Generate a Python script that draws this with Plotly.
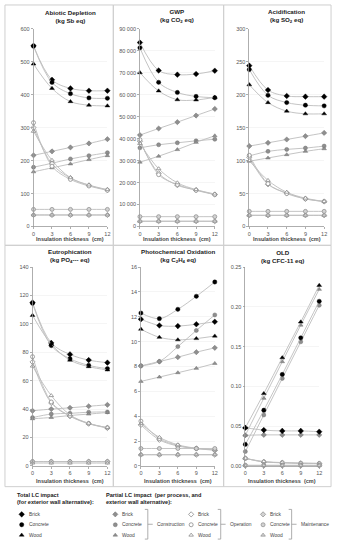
import plotly.graph_objects as go

W, H = 337, 550
def px(x): return x / W
def py(y): return 1 - y / H

thickness = [0, 3, 6, 9, 12]
x_tick_vals = [0, 3, 6, 9, 12]
x_title = "Insulation thickness  (cm)"

# ---------------- Abiotic Depletion (kg Sb eq)
ad_tot_brick = [548, 445, 419, 412, 412]
ad_tot_concrete = [547, 437, 403, 390, 389]
ad_tot_wood = [493, 419, 379, 368, 366]
ad_con_brick = [216, 228, 240, 252, 265]
ad_con_concrete = [180, 192, 205, 215, 224]
ad_con_wood = [166, 178, 190, 203, 215]
ad_op_brick = [300, 190, 147, 125, 111]
ad_op_concrete = [315, 183, 143, 123, 110]
ad_op_wood = [289, 201, 148, 126, 112]
ad_mt_brick = [35, 35, 35, 35, 35]
ad_mt_concrete = [52, 52, 52, 52, 52]
ad_mt_wood = [35, 35, 35, 35, 35]

# ---------------- GWP (kg CO2 eq)
gwp_tot_brick = [83700, 71000, 69100, 69400, 70900]
gwp_tot_concrete = [81300, 65600, 61000, 59200, 58600]
gwp_tot_wood = [70000, 61700, 57700, 57600, 58800]
gwp_con_brick = [41600, 44600, 47500, 50500, 53500]
gwp_con_concrete = [35800, 37200, 38100, 39000, 39700]
gwp_con_wood = [29300, 32000, 35000, 38300, 41300]
gwp_op_brick = [38800, 24200, 18800, 16600, 14600]
gwp_op_concrete = [39500, 23600, 19100, 16500, 14500]
gwp_op_wood = [37800, 26300, 19900, 16800, 14800]
gwp_mt_brick = [2400, 2400, 2400, 2400, 2400]
gwp_mt_concrete = [4500, 4500, 4500, 4500, 4500]
gwp_mt_wood = [2400, 2400, 2400, 2400, 2400]

# ---------------- Acidification (kg SO2 eq)
ac_tot_brick = [244, 207, 198, 197, 197]
ac_tot_concrete = [238, 199, 188, 184, 183]
ac_tot_wood = [215, 188, 175, 171, 171]
ac_con_brick = [122, 127, 132, 137, 142]
ac_con_concrete = [107, 114, 117, 119, 122]
ac_con_wood = [99, 104, 109, 114, 118]
ac_op_brick = [105, 64, 51, 42, 38]
ac_op_concrete = [108, 65, 50, 42, 38]
ac_op_wood = [100, 70, 52, 43, 38]
ac_mt_brick = [17, 17, 17, 17, 17]
ac_mt_concrete = [23, 23, 23, 23, 23]
ac_mt_wood = [17, 17, 17, 17, 17]

# ---------------- Eutrophication (kg PO4--- eq)
eu_tot_brick = [115, 86.6, 78.5, 74.5, 72.7]
eu_tot_concrete = [114.5, 84.7, 75.5, 70.8, 68.5]
eu_tot_wood = [106, 85.7, 74.5, 69.9, 67.6]
eu_con_brick = [38.8, 40, 40.9, 42, 43]
eu_con_concrete = [34, 36.5, 37, 37.8, 38]
eu_con_wood = [33.2, 34.1, 35.5, 36.5, 37.6]
eu_op_brick = [73.2, 44.3, 35, 29.7, 26.7]
eu_op_concrete = [76.9, 45, 35.2, 29.9, 26.9]
eu_op_wood = [70.3, 49.5, 36, 30, 27]
eu_mt_brick = [3, 3, 3, 3, 3]
eu_mt_concrete = [3, 3, 3, 3, 3]
eu_mt_wood = [2, 2, 2, 2, 2]

# ---------------- Photochemical Oxidation (kg C2H4 eq)
po_tot_brick = [11.8, 11.3, 11.25, 11.4, 11.6]
po_tot_concrete = [12.3, 11.85, 12.6, 13.65, 14.8]
po_tot_wood = [11.0, 10.35, 10.15, 10.25, 10.45]
po_con_brick = [8.05, 8.4, 8.75, 9.15, 9.5]
po_con_concrete = [8.05, 8.4, 9.6, 10.9, 12.15]
po_con_wood = [6.8, 7.15, 7.5, 7.85, 8.25]
po_op_brick = [3.3, 2.1, 1.6, 1.4, 1.25]
po_op_concrete = [3.6, 2.2, 1.65, 1.4, 1.3]
po_op_wood = [3.4, 2.3, 1.7, 1.42, 1.3]
po_mt_brick = [0.9, 0.9, 0.9, 0.9, 0.9]
po_mt_concrete = [1.4, 1.4, 1.4, 1.4, 1.4]
po_mt_wood = [0.9, 0.9, 0.9, 0.9, 0.9]

# ---------------- OLD (kg CFC-11 eq)
od_tot_brick = [0.048, 0.045, 0.044, 0.044, 0.043]
od_tot_concrete = [0.027, 0.070, 0.115, 0.161, 0.207]
od_tot_wood = [0.048, 0.091, 0.136, 0.181, 0.227]
od_con_brick = [0.0385, 0.039, 0.039, 0.039, 0.039]
od_con_concrete = [0.018, 0.064, 0.110, 0.156, 0.202]
od_con_wood = [0.0385, 0.085, 0.131, 0.177, 0.222]
od_op_brick = [0.0095, 0.005, 0.004, 0.003, 0.003]
od_op_concrete = [0.0095, 0.005, 0.004, 0.0035, 0.003]
od_op_wood = [0.0095, 0.0055, 0.0042, 0.0035, 0.0032]
od_mt_brick = [0.0005, 0.0005, 0.0005, 0.0005, 0.0005]
od_mt_concrete = [0.0008, 0.0008, 0.0008, 0.0008, 0.0008]
od_mt_wood = [0.0004, 0.0004, 0.0004, 0.0004, 0.0004]

alternatives = ["Brick", "Concrete", "Wood"]
processes = ["Construction", "Operation", "Maintenance"]

FONT = "Liberation Sans, Arial, sans-serif"
LINE_C = "#bdbdbd"

SYM = {"Brick": "diamond", "Concrete": "circle", "Wood": "triangle-up"}
def marker_style(group, alt):
    s = SYM[alt]
    if group == "total":
        return dict(symbol=s, size=4.3, color="#000000", line=dict(color="#000000", width=0.4))
    if group == "Construction":
        return dict(symbol=s, size=4, color="#8f8f8f", line=dict(color="#707070", width=0.5))
    if group == "Operation":
        return dict(symbol=s, size=4, color="#ffffff", line=dict(color="#8a8a8a", width=0.8))
    return dict(symbol=s, size=4, color="#d2d2d2", line=dict(color="#8a8a8a", width=0.7))

panels = [
    dict(t1="Abiotic Depletion", t2="(kg Sb eq)", yr=[0, 600], dt=100, fmt="",
         tot=[ad_tot_brick, ad_tot_concrete, ad_tot_wood],
         part={"Construction": [ad_con_brick, ad_con_concrete, ad_con_wood],
               "Operation": [ad_op_brick, ad_op_concrete, ad_op_wood],
               "Maintenance": [ad_mt_brick, ad_mt_concrete, ad_mt_wood]},
         xd=(32, 107), yd=(26, 226), box=(3, 113, 2, 245), ty=13.5, xty=239),
    dict(t1="GWP", t2="(kg CO<sub>2</sub> eq)", yr=[0, 90000], dt=10000, fmt="",
         tot=[gwp_tot_brick, gwp_tot_concrete, gwp_tot_wood],
         part={"Construction": [gwp_con_brick, gwp_con_concrete, gwp_con_wood],
               "Operation": [gwp_op_brick, gwp_op_concrete, gwp_op_wood],
               "Maintenance": [gwp_mt_brick, gwp_mt_concrete, gwp_mt_wood]},
         xd=(140, 216), yd=(26, 226), box=(113, 225, 2, 245), ty=13.5, xty=239),
    dict(t1="Acidification", t2="(kg SO<sub>2</sub> eq)", yr=[0, 300], dt=50, fmt="",
         tot=[ac_tot_brick, ac_tot_concrete, ac_tot_wood],
         part={"Construction": [ac_con_brick, ac_con_concrete, ac_con_wood],
               "Operation": [ac_op_brick, ac_op_concrete, ac_op_wood],
               "Maintenance": [ac_mt_brick, ac_mt_concrete, ac_mt_wood]},
         xd=(251, 327), yd=(26, 226), box=(225, 334, 2, 245), ty=13.5, xty=239),
    dict(t1="Eutrophication", t2="(kg PO<sub>4</sub>--- eq)", yr=[0, 140], dt=20, fmt="",
         tot=[eu_tot_brick, eu_tot_concrete, eu_tot_wood],
         part={"Construction": [eu_con_brick, eu_con_concrete, eu_con_wood],
               "Operation": [eu_op_brick, eu_op_concrete, eu_op_wood],
               "Maintenance": [eu_mt_brick, eu_mt_concrete, eu_mt_wood]},
         xd=(31, 107), yd=(267, 468), box=(3, 113, 245, 489), ty=256, xty=483),
    dict(t1="Photochemical Oxidation", t2="(kg C<sub>2</sub>H<sub>4</sub> eq)", yr=[0, 16], dt=2, fmt="",
         tot=[po_tot_brick, po_tot_concrete, po_tot_wood],
         part={"Construction": [po_con_brick, po_con_concrete, po_con_wood],
               "Operation": [po_op_brick, po_op_concrete, po_op_wood],
               "Maintenance": [po_mt_brick, po_mt_concrete, po_mt_wood]},
         xd=(141, 216), yd=(267, 468), box=(113, 225, 245, 489), ty=256, xty=483),
    dict(t1="OLD", t2="(kg CFC-11 eq)", yr=[0, 0.25], dt=0.05, fmt=".2f",
         tot=[od_tot_brick, od_tot_concrete, od_tot_wood],
         part={"Construction": [od_con_brick, od_con_concrete, od_con_wood],
               "Operation": [od_op_brick, od_op_concrete, od_op_wood],
               "Maintenance": [od_mt_brick, od_mt_concrete, od_mt_wood]},
         xd=(247, 322), yd=(267, 468), box=(225, 334, 245, 489), ty=256, xty=483),
]

fig = go.Figure()
shapes = []
annotations = []
layout_axes = {}

for i, p in enumerate(panels, start=1):
    xa = "x" if i == 1 else f"x{i}"
    ya = "y" if i == 1 else f"y{i}"
    xkey = "xaxis" if i == 1 else f"xaxis{i}"
    ykey = "yaxis" if i == 1 else f"yaxis{i}"
    for proc in processes:
        for alt, vals in zip(alternatives, p["part"][proc]):
            fig.add_trace(go.Scatter(x=thickness, y=vals, xaxis=xa, yaxis=ya, mode="lines+markers",
                                     line=dict(color=LINE_C, width=0.9, shape="spline", smoothing=1.0),
                                     marker=marker_style(proc, alt), cliponaxis=False,
                                     name=f"{proc} {alt}", showlegend=False))
    for alt, vals in zip(alternatives, p["tot"]):
        fig.add_trace(go.Scatter(x=thickness, y=vals, xaxis=xa, yaxis=ya, mode="lines+markers",
                                 line=dict(color=LINE_C, width=0.9, shape="spline", smoothing=1.0),
                                 marker=marker_style("total", alt), cliponaxis=False,
                                 name=f"Total {alt}", showlegend=False))
    x0, x1 = p["xd"]
    y0, y1 = p["yd"]
    xax = dict(domain=[px(x0), px(x1)], anchor=ya, range=[0, 12],
               tickvals=x_tick_vals, showgrid=False, zeroline=False,
               showline=True, linecolor="#9a9a9a", linewidth=0.8,
               ticks="outside", ticklen=2, tickcolor="#9a9a9a", tickwidth=0.8,
               tickfont=dict(size=5.5, color="#555", family=FONT), fixedrange=True)
    yax = dict(domain=[py(y1), py(y0)], anchor=xa, range=p["yr"], dtick=p["dt"],
               tick0=0, exponentformat="none",
               separatethousands=True, showgrid=True, gridcolor="#eeeeee",
               gridwidth=0.6, zeroline=False, showline=True, linecolor="#9a9a9a",
               linewidth=0.8, ticks="outside", ticklen=2, tickcolor="#9a9a9a",
               tickwidth=0.8, tickfont=dict(size=5.5, color="#555", family=FONT),
               fixedrange=True)
    if p["fmt"]:
        yax["tickformat"] = p["fmt"]
    layout_axes[xkey] = xax
    layout_axes[ykey] = yax
    bx0, bx1, by0, by1 = p["box"]
    shapes.append(dict(type="rect", xref="paper", yref="paper", x0=px(bx0), x1=px(bx1),
                       y0=py(by1), y1=py(by0), line=dict(color="#cfcfcf", width=1)))
    annotations.append(dict(xref="paper", yref="paper", x=px((x0 + x1) / 2), y=py(p["ty"]),
                            text=f"<b>{p['t1']}<br>{p['t2']}</b>", showarrow=False,
                            xanchor="center", yanchor="middle",
                            font=dict(size=6.2, color="#222", family=FONT)))
    annotations.append(dict(xref="paper", yref="paper", x=px((x0 + x1) / 2), y=py(p["xty"]),
                            text=f"<b>{x_title}</b>", showarrow=False,
                            xanchor="center", yanchor="middle",
                            font=dict(size=5.5, color="#444", family=FONT)))

# ---------------- custom legend on an overlay axis (pixel coordinates)
layout_axes["xaxis7"] = dict(domain=[0, 1], range=[0, W], visible=False, fixedrange=True, anchor="y7")
layout_axes["yaxis7"] = dict(domain=[0, 1], range=[H, 0], visible=False, fixedrange=True, anchor="x7")

leg_rows_y = [517, 527.5, 538]
leg_font = dict(size=4.9, color="#444", family=FONT)

annotations.append(dict(xref="x7", yref="y7", x=13, y=500.5, text="<b>Total LC impact<br>(for exterior wall alternative):</b>",
                        showarrow=False, xanchor="left", yanchor="middle", align="left",
                        font=dict(size=5.6, color="#222", family=FONT)))
annotations.append(dict(xref="x7", yref="y7", x=104, y=500.5, text="<b>Partial LC impact  (per process, and<br>exterior wall alternative):</b>",
                        showarrow=False, xanchor="left", yanchor="middle", align="left",
                        font=dict(size=5.6, color="#222", family=FONT)))

def legend_group(group, mx, label=None, bracket_x=None):
    for alt, yy in zip(alternatives, leg_rows_y):
        fig.add_trace(go.Scatter(x=[mx], y=[yy], xaxis="x7", yaxis="y7", mode="markers",
                                 marker=marker_style(group, alt), showlegend=False, hoverinfo="skip"))
        annotations.append(dict(xref="x7", yref="y7", x=mx + 5, y=yy, text=alt, showarrow=False,
                                xanchor="left", yanchor="middle", font=leg_font))
    if bracket_x is not None:
        top, bot = 512, 542
        mid = (top + bot) / 2
        shapes.append(dict(type="path", xref="x7", yref="y7",
                           path=f"M {bracket_x-3},{top} L {bracket_x},{top} L {bracket_x},{bot} L {bracket_x-3},{bot}",
                           line=dict(color="#9a9a9a", width=0.8)))
        shapes.append(dict(type="line", xref="x7", yref="y7", x0=bracket_x, x1=bracket_x + 5,
                           y0=mid, y1=mid, line=dict(color="#9a9a9a", width=0.8)))
        annotations.append(dict(xref="x7", yref="y7", x=bracket_x + 7, y=mid, text=label,
                                showarrow=False, xanchor="left", yanchor="middle", font=leg_font))

legend_group("total", 20)
legend_group("Construction", 115, "Construction", 148)
legend_group("Operation", 192, "Operation", 222)
legend_group("Maintenance", 265, "Maintenance", 294)

fig.update_layout(width=W, height=H, autosize=False, margin=dict(l=0, r=0, t=0, b=0),
                  paper_bgcolor="white", plot_bgcolor="rgba(0,0,0,0)", separators=". ",
                  font=dict(family=FONT), showlegend=False, hovermode=False,
                  shapes=shapes, annotations=annotations, **layout_axes)

fig.write_html("out.html", config={"displayModeBar": False, "staticPlot": True},
               post_script="document.body.style.margin='0px';document.body.style.overflow='hidden';")
